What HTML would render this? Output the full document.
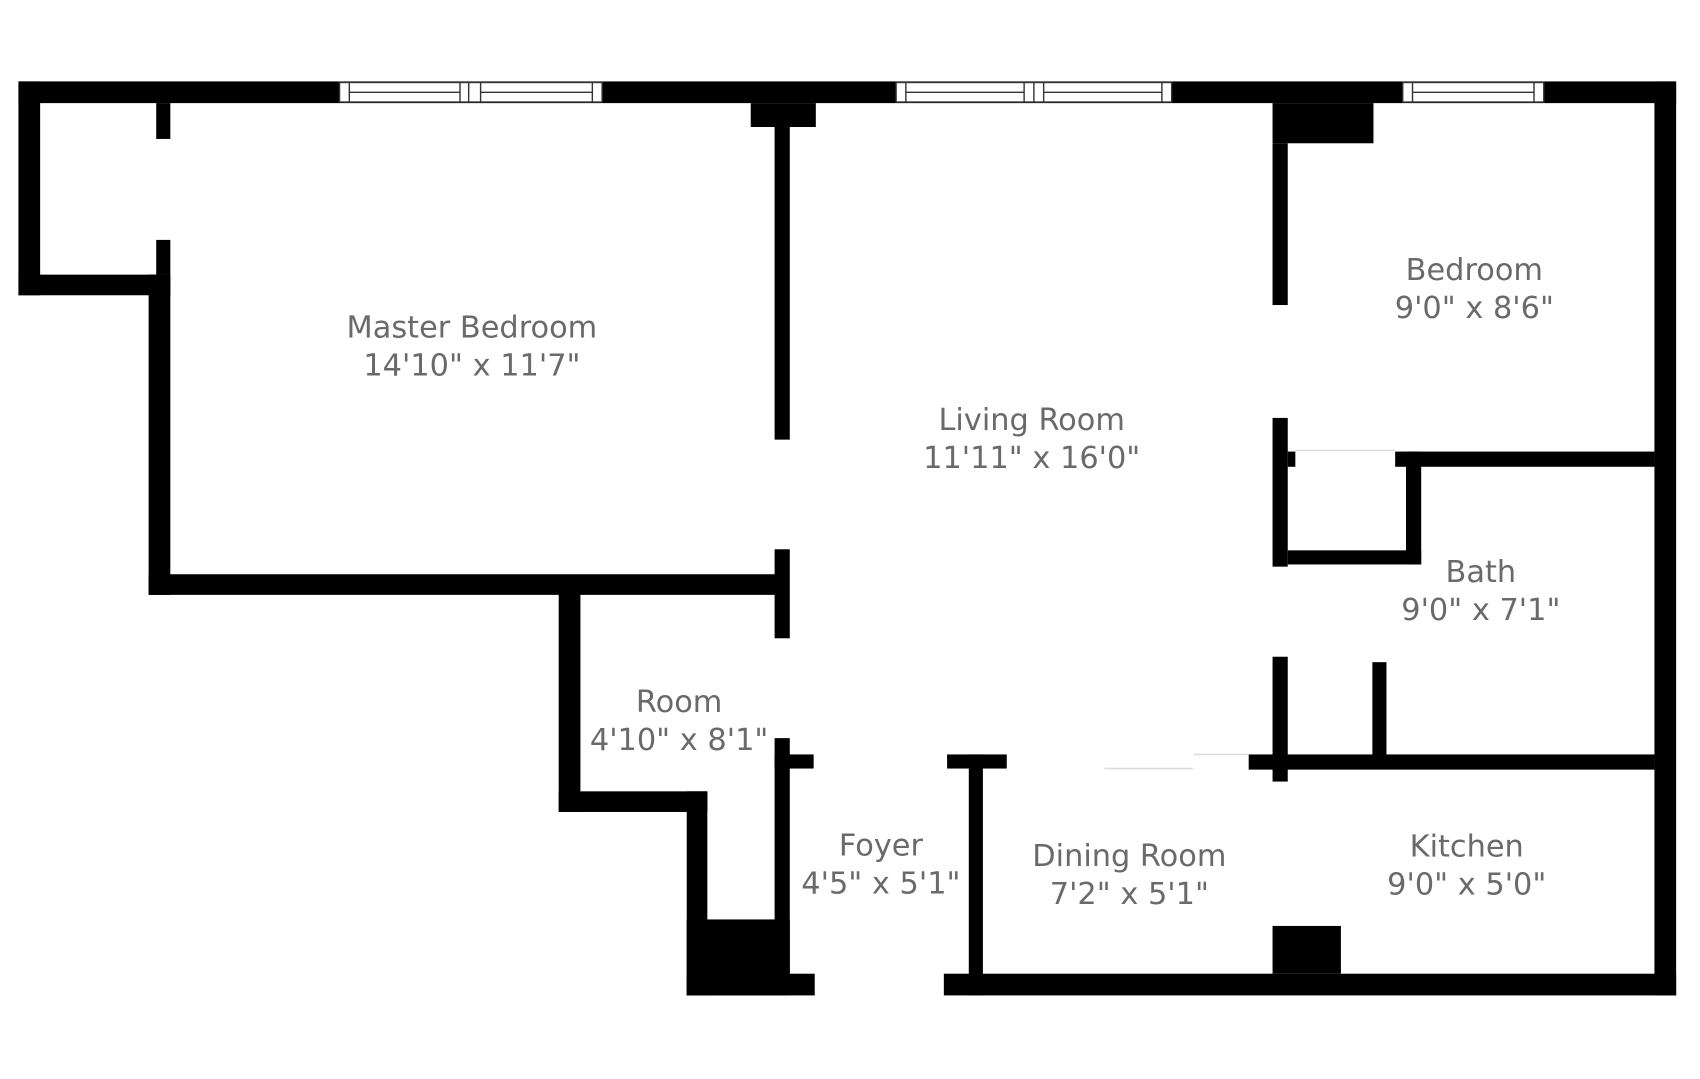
<!DOCTYPE html>
<html><head><meta charset="utf-8"><style>html,body{margin:0;padding:0;background:#fff;}svg{display:block}</style></head>
<body>
<svg width="1700" height="1079" viewBox="0 0 1567 994" preserveAspectRatio="none" xmlns="http://www.w3.org/2000/svg">
<rect width="1567" height="994" fill="#fff"/>
<g fill="#000">
<rect x="17" y="75" width="1528" height="20"/>
<rect x="17" y="75" width="20" height="197"/>
<rect x="17" y="253" width="140" height="19"/>
<rect x="144" y="95" width="13" height="33"/>
<rect x="144" y="221" width="13" height="32"/>
<rect x="137" y="253" width="20" height="295"/>
<rect x="137" y="529" width="579" height="19"/>
<rect x="714" y="506" width="14" height="82"/>
<rect x="692" y="95" width="60" height="22"/>
<rect x="714" y="117" width="14" height="288"/>
<rect x="515" y="541" width="20" height="207"/>
<rect x="515" y="729" width="137" height="19"/>
<rect x="633" y="729" width="19" height="188"/>
<rect x="633" y="847" width="95" height="70"/>
<rect x="633" y="897" width="118" height="20"/>
<rect x="714" y="680" width="14" height="217"/>
<rect x="714" y="695" width="36" height="13"/>
<rect x="873" y="695" width="55" height="13"/>
<rect x="893" y="695" width="13" height="222"/>
<rect x="870" y="897" width="675" height="20"/>
<rect x="1525" y="75" width="20" height="842"/>
<rect x="1173" y="95" width="93" height="37"/>
<rect x="1173" y="132" width="14" height="149"/>
<rect x="1173" y="385" width="14" height="137"/>
<rect x="1187" y="416" width="7" height="14"/>
<rect x="1286" y="416" width="239" height="14"/>
<rect x="1296" y="416" width="14" height="104"/>
<rect x="1187" y="507" width="123" height="13"/>
<rect x="1173" y="605" width="14" height="115"/>
<rect x="1265" y="610" width="13" height="98"/>
<rect x="1151" y="695" width="374" height="14"/>
<rect x="1173" y="853" width="63" height="44"/>
</g>
<g stroke="#ddd" stroke-width="1.5">
<line x1="1194" y1="415" x2="1286" y2="415"/>
<line x1="1018" y1="708" x2="1100" y2="708"/>
<line x1="1100" y1="695" x2="1151" y2="695"/>
</g>
<g fill="#fff" stroke="#333" stroke-width="1.3">
<rect x="313" y="76" width="242" height="18"/>
<line x1="322" y1="76" x2="322" y2="94"/><line x1="424" y1="76" x2="424" y2="94"/><line x1="432" y1="76" x2="432" y2="94"/><line x1="443" y1="76" x2="443" y2="94"/><line x1="546" y1="76" x2="546" y2="94"/>
<line x1="322" y1="85" x2="424" y2="85"/><line x1="443" y1="85" x2="546" y2="85"/>
<rect x="826" y="76" width="254" height="18"/>
<line x1="835" y1="76" x2="835" y2="94"/><line x1="944" y1="76" x2="944" y2="94"/><line x1="953" y1="76" x2="953" y2="94"/><line x1="962" y1="76" x2="962" y2="94"/><line x1="1071" y1="76" x2="1071" y2="94"/>
<line x1="835" y1="85" x2="944" y2="85"/><line x1="962" y1="85" x2="1071" y2="85"/>
<rect x="1293" y="76" width="130" height="18"/>
<line x1="1302" y1="76" x2="1302" y2="94"/><line x1="1414" y1="76" x2="1414" y2="94"/>
<line x1="1302" y1="85" x2="1414" y2="85"/>
</g>
<g fill="#6a6a6a" font-family="DejaVu Sans, Liberation Sans, sans-serif" font-size="28" text-anchor="middle">
<text x="435" y="311">Master Bedroom</text><text x="435" y="346">14'10" x 11'7"</text>
<text x="951" y="396">Living Room</text><text x="951" y="431">11'11" x 16'0"</text>
<text x="1359" y="258">Bedroom</text><text x="1359" y="293">9'0" x 8'6"</text>
<text x="1365" y="536">Bath</text><text x="1365" y="571">9'0" x 7'1"</text>
<text x="626" y="656">Room</text><text x="626" y="691">4'10" x 8'1"</text>
<text x="812" y="788">Foyer</text><text x="812" y="823">4'5" x 5'1"</text>
<text x="1041" y="798">Dining Room</text><text x="1041" y="833">7'2" x 5'1"</text>
<text x="1352" y="789">Kitchen</text><text x="1352" y="824">9'0" x 5'0"</text>
</g>
</svg>
</body></html>
